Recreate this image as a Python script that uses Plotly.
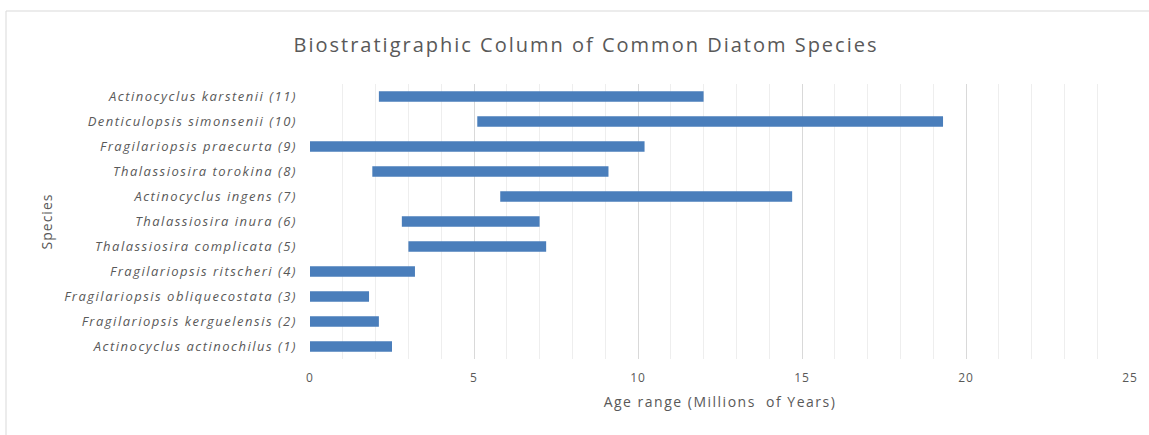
import plotly.graph_objects as go

species = [
    "Actinocyclus actinochilus (1)",
    "Fragilariopsis kerguelensis (2)",
    "Fragilariopsis obliquecostata (3)",
    "Fragilariopsis ritscheri (4)",
    "Thalassiosira complicata (5)",
    "Thalassiosira inura (6)",
    "Actinocyclus ingens (7)",
    "Thalassiosira torokina (8)",
    "Fragilariopsis praecurta (9)",
    "Denticulopsis simonsenii (10)",
    "Actinocyclus karstenii (11)",
]
first_appearance = [0.0, 0.0, 0.0, 0.0, 3.0, 2.8, 5.8, 1.9, 0.0, 5.1, 2.1]
last_appearance = [2.5, 2.1, 1.8, 3.2, 7.2, 7.0, 14.7, 9.1, 10.2, 19.3, 12.0]
x_ticks = [0, 5, 10, 15, 20, 25]

duration = [e - s for s, e in zip(first_appearance, last_appearance)]

TXT = "#595959"
FONT = "Open Sans"


def spaced(t, sp):
    return f"<span style='letter-spacing:{sp}px'>{t}</span>"


fig = go.Figure(
    go.Bar(
        y=species,
        x=duration,
        base=first_appearance,
        orientation="h",
        marker=dict(color="#4a7ebb", line=dict(width=0)),
        width=0.42,
        hoverinfo="skip",
    )
)

# plot area: x 310..1130, y 84..359
L, R, T, B = 310, 1130, 84, 359
W, H = 1149, 435
pw, ph = R - L, B - T


def px(xp):
    return (xp - L) / pw


def py(yp):
    return (B - yp) / ph


fig.update_layout(
    width=W,
    height=H,
    margin=dict(l=L, r=W - R, t=T, b=H - B, pad=0),
    paper_bgcolor="white",
    plot_bgcolor="white",
    showlegend=False,
    font=dict(family=FONT, color=TXT),
    title=dict(
        text=spaced("Biostratigraphic Column of Common Diatom Species", 2),
        x=px(586),
        xref="paper",
        xanchor="center",
        y=1 - 45 / H,
        yref="container",
        yanchor="middle",
        font=dict(family=FONT, size=20, color=TXT),
    ),
    xaxis=dict(
        range=[0, 25],
        tickvals=x_ticks,
        ticktext=[spaced(str(v), 1) for v in x_ticks],
        showgrid=True,
        gridcolor="#d9d9d9",
        gridwidth=1,
        minor=dict(dtick=1, showgrid=True, gridcolor="#eeeeee", gridwidth=1),
        zeroline=False,
        showline=False,
        ticks="",
        tickfont=dict(family=FONT, size=12, color=TXT),
        ticklabelstandoff=10,
        title=dict(
            text=spaced("Age range (Millions  of Years)", 1.5),
            font=dict(family=FONT, size=14, color=TXT),
            standoff=12,
        ),
        fixedrange=True,
    ),
    yaxis=dict(
        type="category",
        categoryorder="array",
        categoryarray=species,
        tickmode="array",
        tickvals=species,
        ticktext=[spaced(s, 1.5) for s in species],
        showgrid=False,
        zeroline=False,
        showline=False,
        ticks="",
        tickfont=dict(family=FONT, size=13, color=TXT, style="italic"),
        ticklabelstandoff=12,
        title=dict(
            text=spaced("Species", 1),
            font=dict(family=FONT, size=14, color=TXT),
            standoff=8,
        ),
        fixedrange=True,
    ),
    shapes=[
        dict(
            type="rect",
            xref="paper",
            yref="paper",
            x0=px(6),
            x1=px(1170),
            y0=py(460),
            y1=py(11),
            line=dict(color="#d9d9d9", width=1),
            fillcolor="rgba(0,0,0,0)",
            layer="below",
        )
    ],
)

fig.write_html("out.html")
